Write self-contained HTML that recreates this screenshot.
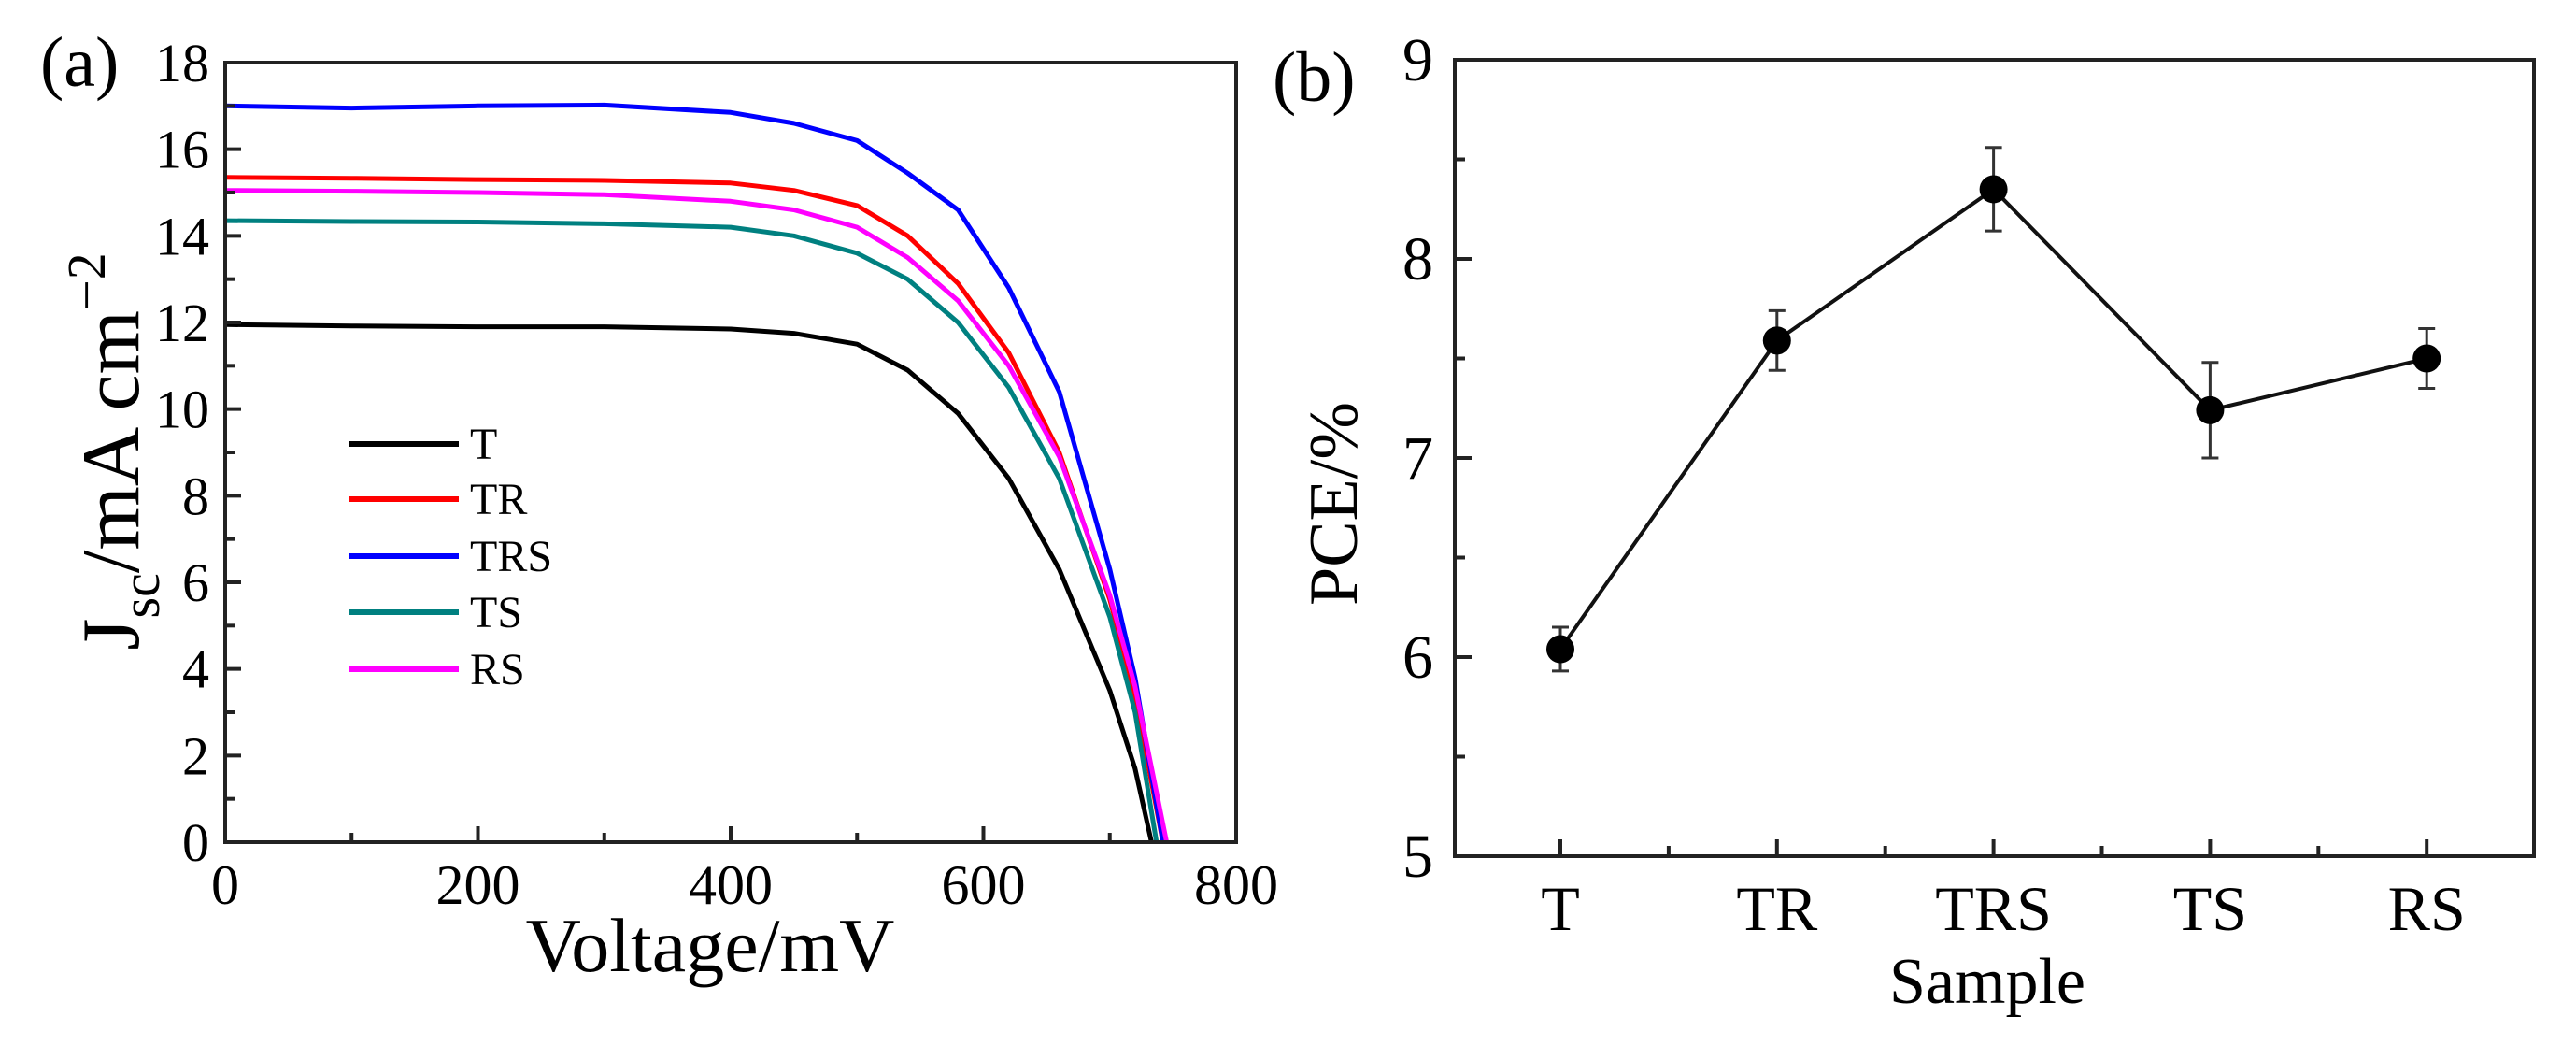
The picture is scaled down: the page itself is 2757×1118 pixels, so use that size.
<!DOCTYPE html>
<html><head><meta charset="utf-8"><style>
html,body{margin:0;padding:0;background:#fff;}
svg{display:block;font-family:"Liberation Serif","Times New Roman",serif;}
</style></head><body>
<svg id="fig" width="2757" height="1118" viewBox="0 0 2757 1118">
<g id="pa"></g>
<g id="pb"></g>
</svg>
<script>
const NS="http://www.w3.org/2000/svg";
// ---- Panel (a) data ----
const seriesNames=["T","TR","TRS","TS","RS"];
const seriesColors=["#000000","#ff0000","#0000ff","#008080","#ff00ff"];
const voltage=[0,100,200,300,400,450,500,540,580,620,660,700,720];
const jT  =[11.95,11.92,11.9,11.9,11.85,11.75,11.5,10.9,9.9,8.4,6.3,3.5,1.7];
const jTR =[15.35,15.33,15.3,15.28,15.22,15.05,14.7,14.0,12.9,11.3,9.0,5.6,3.4];
const jTRS=[17.0,16.95,17.0,17.02,16.85,16.6,16.2,15.45,14.6,12.8,10.4,6.3,3.8];
const jTS =[14.35,14.33,14.32,14.28,14.2,14.0,13.6,13.0,12.0,10.5,8.4,5.2,3.0];
const jRS =[15.05,15.03,15.0,14.95,14.8,14.6,14.2,13.5,12.5,11.0,8.9,5.7,3.6];
const vocs=[733,742,742,737,745];
const xTicksA=[0,200,400,600,800];
const yTicksA=[0,2,4,6,8,10,12,14,16,18];
// ---- Panel (b) data ----
const samples=["T","TR","TRS","TS","RS"];
const pce=[6.04,7.59,8.35,7.24,7.50];
const pceErr=[0.11,0.15,0.21,0.24,0.15];
const yTicksB=[5,6,7,8,9];

function el(parent,tag,attrs,name,inter){
  const e=document.createElementNS(NS,tag);
  for(const k in attrs)e.setAttribute(k,attrs[k]);
  
  
  parent.appendChild(e);return e;
}
// Panel A axes
const A={x0:241,x1:1323,y0:901,y1:67,vmax:800,jmax:18};
const ax=v=>A.x0+(v/A.vmax)*(A.x1-A.x0);
const ay=j=>A.y0-(j/A.jmax)*(A.y0-A.y1);
const pa=document.getElementById('pa');
const jsets=[jT,jTR,jTRS,jTS,jRS];
jsets.forEach((js,i)=>{
  let pts=voltage.map((v,k)=>ax(v).toFixed(1)+","+ay(js[k]).toFixed(1));
  pts.push(ax(vocs[i]).toFixed(1)+","+ay(0).toFixed(1));
  el(pa,'polyline',{points:pts.join(" "),fill:"none",stroke:seriesColors[i],"stroke-width":5,"stroke-linejoin":"round"},'curve-'+seriesNames[i].toLowerCase(),false);
});
el(pa,'rect',{x:A.x0,y:A.y1,width:A.x1-A.x0,height:A.y0-A.y1,fill:"none",stroke:"#222","stroke-width":4},'plot-frame-a',false);
for(let v=0;v<=800;v+=100){
  const maj=v%200===0;
  el(pa,'line',{x1:ax(v),x2:ax(v),y1:A.y0,y2:A.y0-(maj?17:10),stroke:"#222","stroke-width":4},'x-tick-a',false);
}
xTicksA.forEach(v=>{
  const t=el(pa,'text',{x:ax(v),y:967,"font-size":60,"text-anchor":"middle"},'x-tick-label-a',false);t.textContent=v;
});
for(let j=0;j<=18;j+=1){
  const maj=j%2===0;
  el(pa,'line',{x1:A.x0,x2:A.x0+(maj?17:10),y1:ay(j),y2:ay(j),stroke:"#222","stroke-width":4},'y-tick-a',false);
}
yTicksA.forEach(j=>{
  const t=el(pa,'text',{x:224,y:ay(j)+20,"font-size":58,"text-anchor":"end"},'y-tick-label-a',false);t.textContent=j;
});
let t=el(pa,'text',{x:760,y:1039,"font-size":82,"text-anchor":"middle"},'x-axis-title-a',false);t.textContent="Voltage/mV";
t=el(pa,'text',{x:0,y:0,"font-size":88,"text-anchor":"middle",transform:"translate(148,483) rotate(-90)"},'y-axis-title-a',false);
t.innerHTML='J<tspan font-size="58" dy="22">sc</tspan><tspan dy="-22">/mA cm</tspan><tspan font-size="58" dy="-36">&#8722;2</tspan>';
t=el(pa,'text',{x:43,y:92,"font-size":76},'panel-label-a',false);t.textContent="(a)";
const legY=[475,534,595,655,716];
const legend=el(pa,'g',{},'legend',false);
seriesNames.forEach((n,i)=>{
  const g=el(legend,'g',{},'legend-entry-'+n.toLowerCase(),true);
  el(g,'line',{x1:373,x2:491,y1:legY[i],y2:legY[i],stroke:seriesColors[i],"stroke-width":6},'legend-swatch',false);
  const tx=el(g,'text',{x:503,y:legY[i]+16,"font-size":48},'legend-label',false);tx.textContent=n;
});
// Panel B
const B={x0:1557,x1:2712,y0:916,y1:64,ymin:5,ymax:9,first:1670,step:231.8};
const bx=i=>B.first+i*B.step;
const by=v=>B.y0-(v-B.ymin)/(B.ymax-B.ymin)*(B.y0-B.y1);
const pb=document.getElementById('pb');
el(pb,'rect',{x:B.x0,y:B.y1,width:B.x1-B.x0,height:B.y0-B.y1,fill:"none",stroke:"#222","stroke-width":4},'plot-frame-b',false);
for(let v=5;v<=9.001;v+=0.5){
  const maj=Math.abs(v-Math.round(v))<1e-6;
  el(pb,'line',{x1:B.x0,x2:B.x0+(maj?18:11),y1:by(v),y2:by(v),stroke:"#222","stroke-width":4},'y-tick-b',false);
}
yTicksB.forEach(v=>{
  const tt=el(pb,'text',{x:1534,y:by(v)+22,"font-size":66,"text-anchor":"end"},'y-tick-label-b',false);tt.textContent=v;
});
for(let k=0;k<samples.length*2-1;k++){
  const x=B.first+k*B.step/2;const maj=k%2===0;
  el(pb,'line',{x1:x,x2:x,y1:B.y0,y2:B.y0-(maj?18:11),stroke:"#222","stroke-width":4},'x-tick-b',false);
}
samples.forEach((s,i)=>{
  const tt=el(pb,'text',{x:bx(i),y:995,"font-size":68,"text-anchor":"middle"},'x-tick-label-b',false);tt.textContent=s;
});
el(pb,'polyline',{points:pce.map((v,i)=>bx(i)+","+by(v)).join(" "),fill:"none",stroke:"#111","stroke-width":4},'pce-line',false);
pce.forEach((v,i)=>{
  const g=el(pb,'g',{},'point-'+samples[i].toLowerCase(),true);
  const x=bx(i),yt=by(v+pceErr[i]),yb=by(v-pceErr[i]);
  el(g,'line',{x1:x,x2:x,y1:yt,y2:yb,stroke:"#333","stroke-width":3},'error-bar',false);
  el(g,'line',{x1:x-9,x2:x+9,y1:yt,y2:yt,stroke:"#333","stroke-width":3},'error-cap-top',false);
  el(g,'line',{x1:x-9,x2:x+9,y1:yb,y2:yb,stroke:"#333","stroke-width":3},'error-cap-bottom',false);
  el(g,'circle',{cx:x,cy:by(v),r:15,fill:"#000"},'marker',false);
});
t=el(pb,'text',{x:0,y:0,"font-size":74,"text-anchor":"middle",transform:"translate(1452,539) rotate(-90)"},'y-axis-title-b',false);t.textContent="PCE/%";
t=el(pb,'text',{x:2127,y:1073,"font-size":70,"text-anchor":"middle"},'x-axis-title-b',false);t.textContent="Sample";
t=el(pb,'text',{x:1362,y:108,"font-size":76},'panel-label-b',false);t.textContent="(b)";
</script>
</body></html>
